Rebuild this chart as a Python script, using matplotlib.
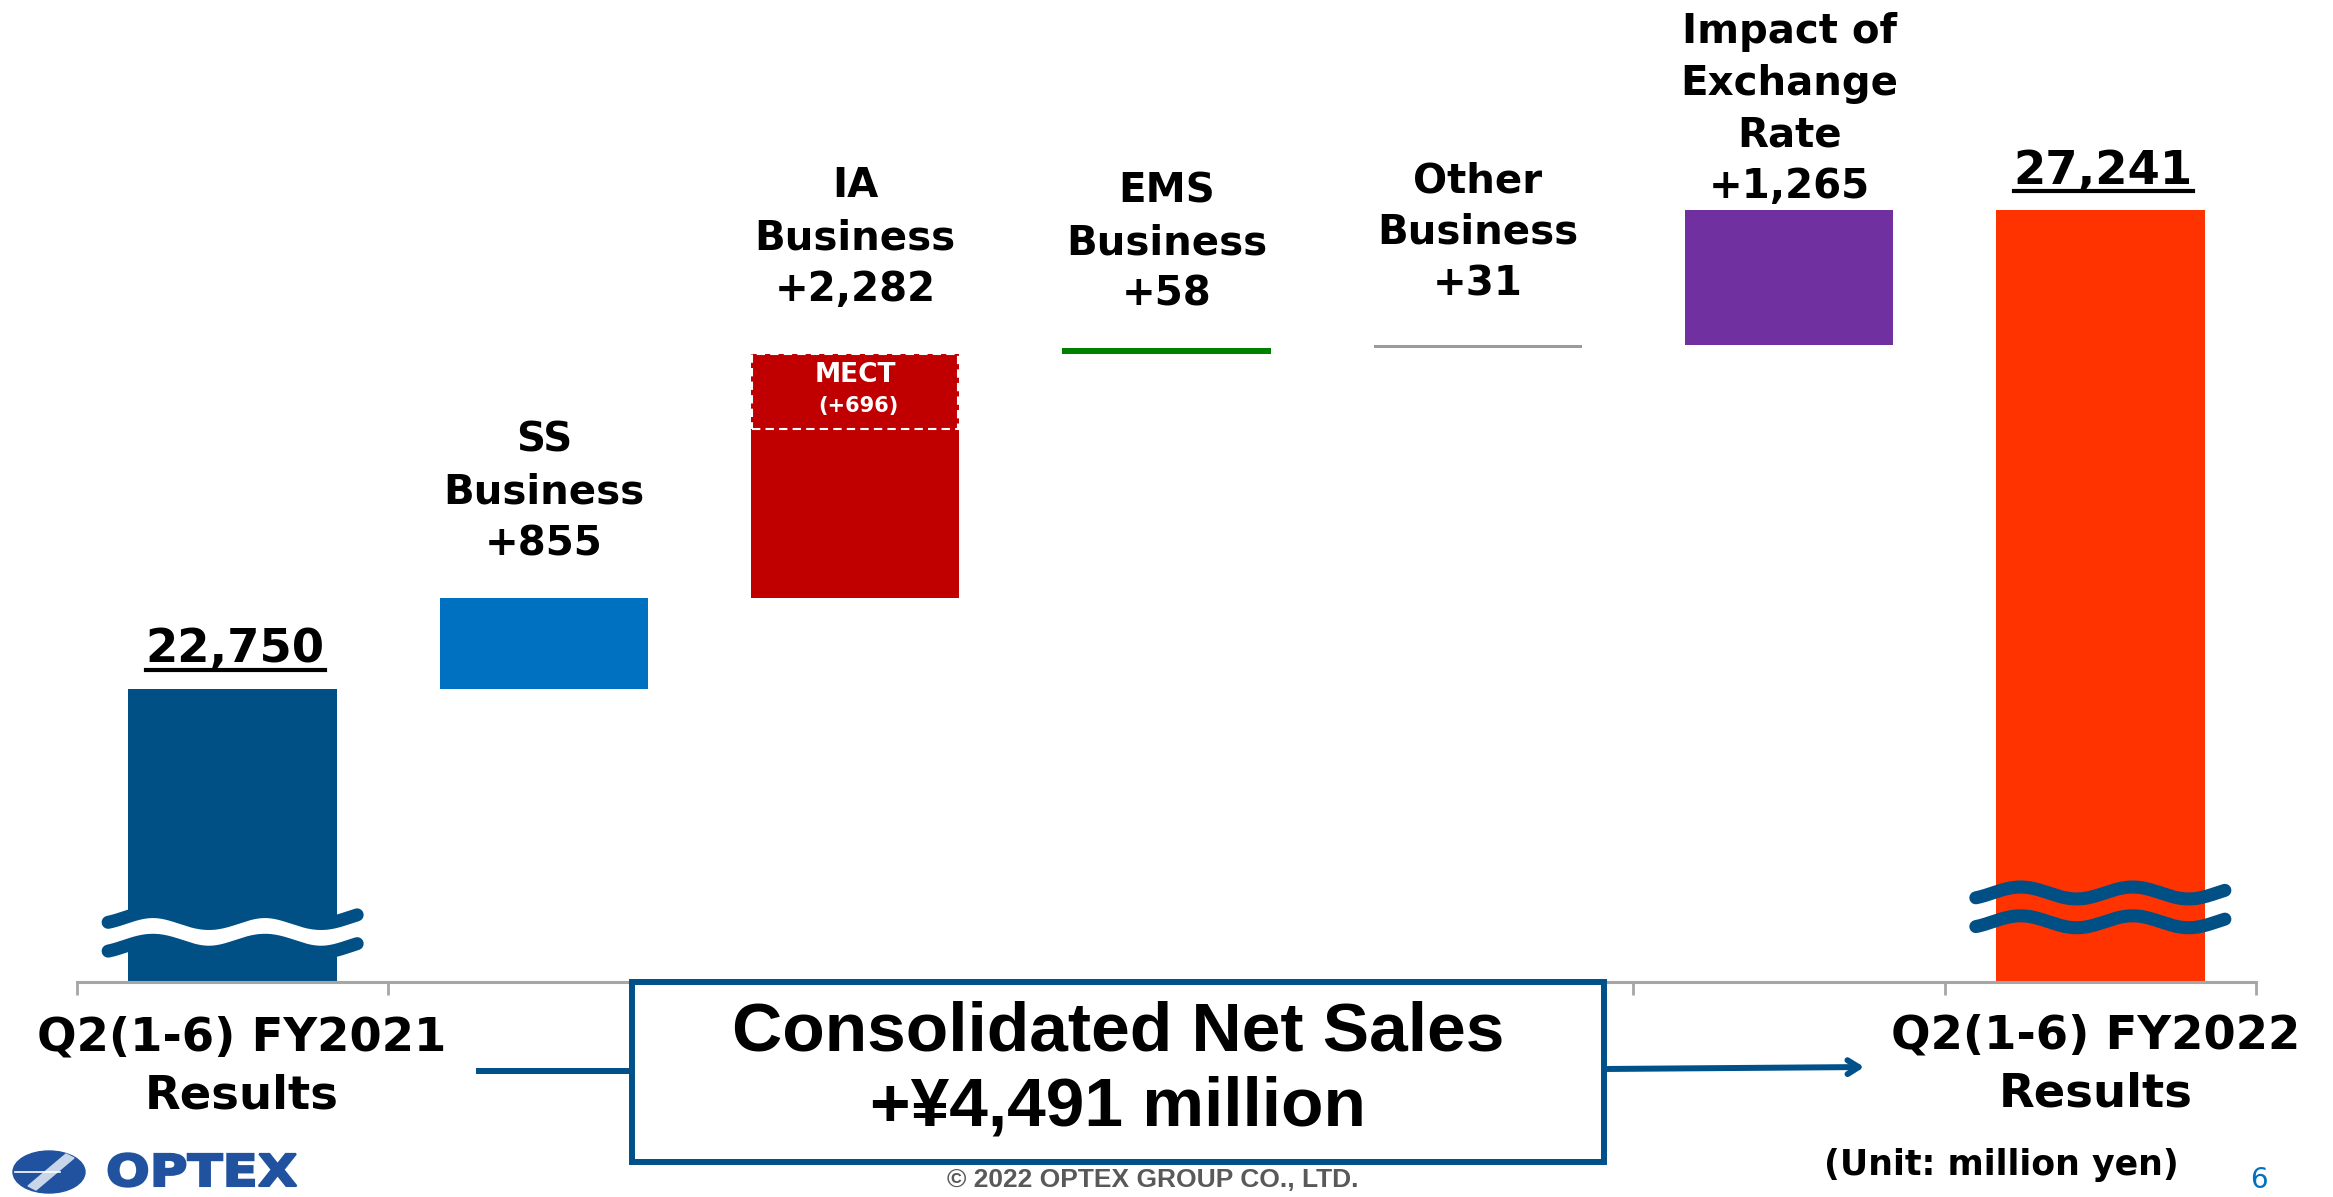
import matplotlib.pyplot as plt
import numpy as np
from matplotlib.patches import Rectangle, Ellipse, PathPatch, Polygon
from matplotlib.lines import Line2D
from matplotlib.textpath import TextPath
from matplotlib.font_manager import FontProperties
from matplotlib.transforms import Affine2D

# data (million yen)
start_label = 'Q2(1-6) FY2021\nResults'
end_label = 'Q2(1-6) FY2022\nResults'
start_value = 22750
end_value = 27241
change_names = ['SS\nBusiness', 'IA\nBusiness', 'EMS\nBusiness', 'Other\nBusiness',
                'Impact of\nExchange\nRate']
changes = [855, 2282, 58, 31, 1265]
mect_value = 696
net_change = 4491

change_colors = ['#0070C0', '#C00000', '#008000', '#9B9B9B', '#7030A0']
blue_dark = '#005086'
line_blue = '#00508A'

W, H = 2333, 1197
fig = plt.figure(figsize=(W / 100, H / 100), dpi=100)
ax = fig.add_axes([77 / W, 1 - 982 / H, (2256 - 77) / W, 982 / H])

y_bottom, y_top = 20000, 29211
ax.set_ylim(y_bottom, y_top)
ax.set_xlim(-0.5, 6.5)

bw = 0.67
x_changes = np.arange(1, len(changes) + 1)
bottoms = start_value + np.cumsum(changes) - np.array(changes)

ax.bar(0, start_value, width=bw, color=blue_dark, zorder=2)
ax.bar(x_changes, changes, bottom=bottoms, width=bw, color=change_colors, zorder=2)
ax.bar(6, end_value, width=bw, color='#FF3300', zorder=2)

# MECT part of IA business (dashed box at top of IA bar)
ia_top = bottoms[1] + changes[1]
ax.add_patch(Rectangle((2 - bw / 2 + 0.003, ia_top - mect_value), bw - 0.008, mect_value,
                       fill=False, edgecolor='white', lw=1.5, linestyle=(0, (4, 2.5)), zorder=3))
ax.annotate('MECT', (2, ia_top), xytext=(0, -14.5), textcoords='offset points',
            ha='center', va='center', color='white', fontsize=19, fontweight='bold')
ax.annotate(f'(+{mect_value:,})', (2, ia_top), xytext=(2, -37), textcoords='offset points',
            ha='center', va='center', color='white', fontsize=15, fontweight='bold')

# labels above changes
label_offsets = [24, 32, 24, 29, 2]
for x, name, b, v, off in zip(x_changes, change_names, bottoms, changes, label_offsets):
    ax.annotate(f'{name}\n+{v:,}', (x, b + v), xytext=(0, off), textcoords='offset points',
                ha='center', va='bottom', fontsize=29, fontweight='bold', linespacing=1.38)

# total values (underlined)
total_texts = []
for x, v in [(0, start_value), (6, end_value)]:
    t = ax.annotate(f'{v:,}', (x, v), xytext=(2, 19), textcoords='offset points',
                    ha='center', va='baseline', fontsize=33.5, fontweight='bold')
    total_texts.append((t, x, v))


# broken-axis wave symbols
def draw_break(xc, yc, fill=None):
    t = np.linspace(0, 1, 300)
    xs = xc - 0.40 + 0.80 * t
    wave = 56 * np.sin(2 * np.pi * t / 0.45 - 0.94)
    y1 = yc + 135 + wave
    y2 = yc - 135 + wave
    if fill:
        ax.fill_between(xs, y2, y1, color=fill, lw=0, zorder=3)
    for yy in (y1, y2):
        ax.plot(xs, yy, color=blue_dark, lw=9.4, solid_capstyle='round', zorder=4)


draw_break(0, 20470, fill='white')
draw_break(6, 20700)

# axis styling
for s in ['left', 'top', 'right']:
    ax.spines[s].set_visible(False)
ax.spines['bottom'].set_color('#A6A6A6')
ax.spines['bottom'].set_linewidth(2.2)
ax.set_xticks(np.arange(-0.5, 7, 1))
ax.set_xticklabels([])
ax.set_yticks([])
ax.tick_params(axis='x', length=9, width=2, color='#A6A6A6', direction='out')

# x labels
fig.text(242 / W, 1 - 1067 / H, start_label, ha='center', va='center',
         fontsize=33.5, fontweight='bold', linespacing=1.38)
fig.text(2096 / W, 1 - 1065 / H, end_label, ha='center', va='center',
         fontsize=33.5, fontweight='bold', linespacing=1.38)

# summary box with arrow
fig.patches.append(Rectangle((632 / W, 1 - 1162 / H), (1604 - 632) / W, (1162 - 982) / H,
                             transform=fig.transFigure, facecolor='white',
                             edgecolor=line_blue, lw=4.3, zorder=5))
fig.text(1118 / W, 1 - 1070 / H, f'Consolidated Net Sales\n+¥{net_change:,} million',
         ha='center', va='center', fontsize=50, fontweight='bold', family='Liberation Sans',
         linespacing=1.22, zorder=6)
fig.lines.append(Line2D([479 / W, 632 / W], [1 - 1071 / H, 1 - 1071 / H],
                        transform=fig.transFigure, color=line_blue, lw=4.3))
ax.annotate('', xy=(1867 / W, 1 - 1067 / H), xytext=(1604 / W, 1 - 1069 / H),
            xycoords='figure fraction', textcoords='figure fraction',
            arrowprops=dict(arrowstyle='->,head_length=0.8,head_width=0.5',
                            color=line_blue, lw=4.3))

fig.text(2001 / W, 1 - 1165 / H, '(Unit: million yen)', ha='center', va='center',
         fontsize=25, fontweight='bold')
fig.text(1153 / W, 1 - 1180 / H, '© 2022 OPTEX GROUP CO., LTD.', ha='center', va='center',
         fontsize=19, fontweight='bold', family='Liberation Sans', color='#595959')
fig.text(2259 / W, 1 - 1180 / H, '6', ha='center', va='center', fontsize=20, color='#0070C0')

# logo
logo_blue = '#21529F'
fig.patches.append(Ellipse((49 / W, 1 - 1172 / H), 72 / W, 42 / H, transform=fig.transFigure,
                           color=logo_blue))
fig.patches.append(Polygon([(66 / W, 1 - 1154 / H), (74 / W, 1 - 1158 / H),
                            (36 / W, 1 - 1190 / H), (28 / W, 1 - 1186 / H)],
                           closed=True, transform=fig.transFigure, color='#C9D6EA'))
fig.lines.append(Line2D([15 / W, 60 / W], [1 - 1172 / H, 1 - 1172 / H],
                        transform=fig.transFigure, color='white', lw=1.2))
tp = TextPath((0, 0), 'OPTEX', size=44, prop=FontProperties(family='DejaVu Sans', weight='heavy'))
fig.patches.append(PathPatch(tp, transform=Affine2D().scale(1.17, 1).translate(106, H - 1186),
                             color=logo_blue, lw=1.5))

# underlines for totals
fig.canvas.draw()
r = fig.canvas.get_renderer()
inv = fig.transFigure.inverted()
for t, x, v in total_texts:
    bb = t.get_window_extent(r)
    yd = ax.transData.transform((x, v))[1] + 19
    p0 = inv.transform((bb.x0, yd))
    p1 = inv.transform((bb.x1, yd))
    fig.lines.append(Line2D([p0[0], p1[0]], [p0[1], p1[1]], transform=fig.transFigure,
                            color='black', lw=3))

fig.savefig('out.png', dpi=100, facecolor='white')
